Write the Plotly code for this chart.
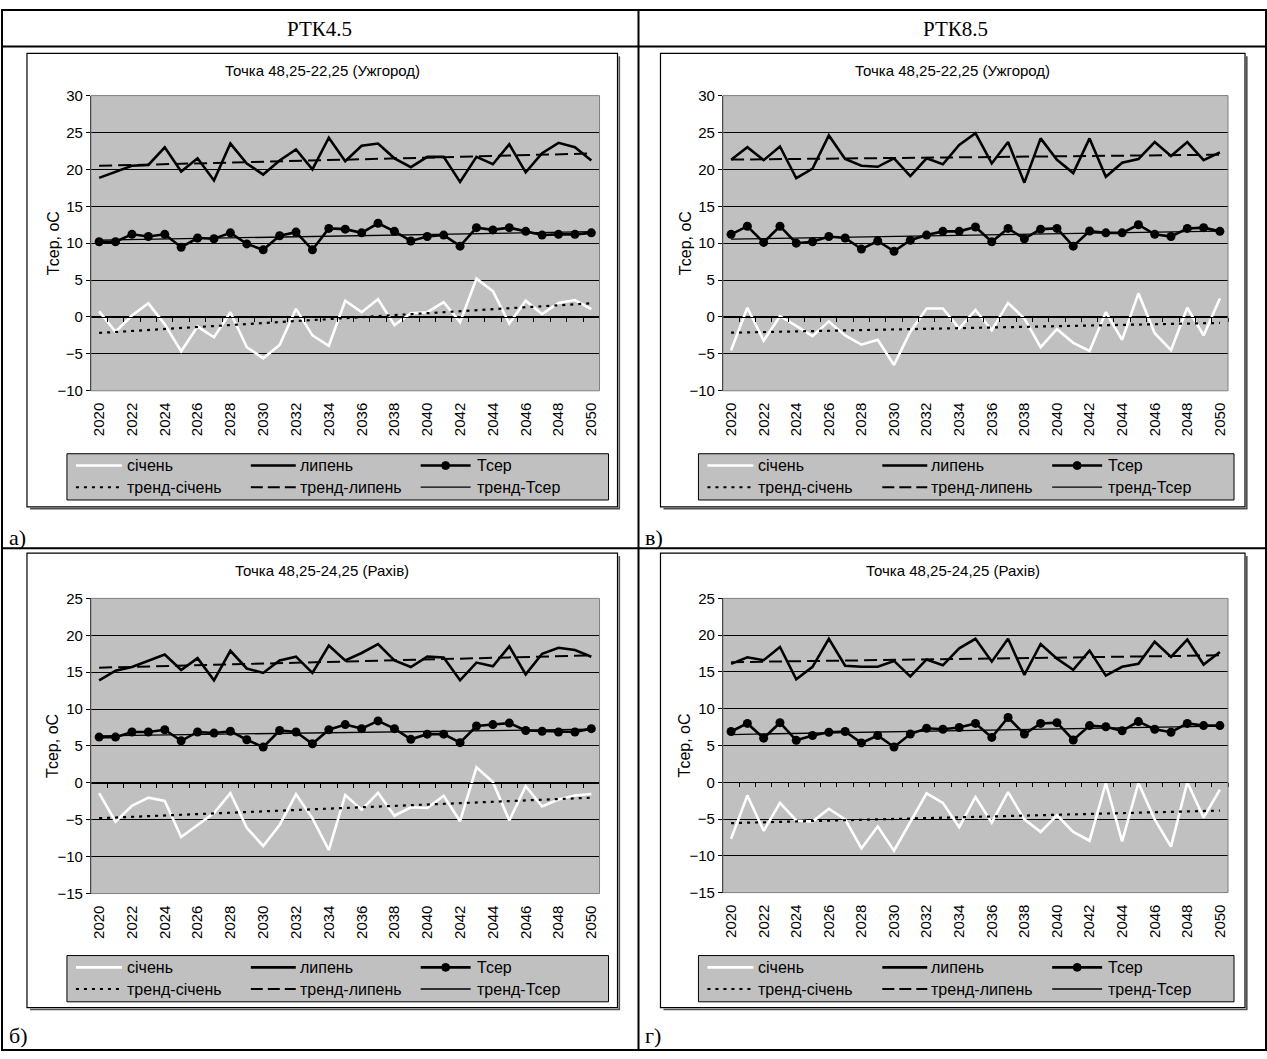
import numpy as np
import plotly.graph_objects as go

# ---------------------------------------------------------------- data
YEARS = list(range(2020, 2051))
YEAR_TICKS = list(range(2020, 2051, 2))

# Ужгород, РТК4.5
jan_uzh_45 = [0.75, -2.0, 0.2, 1.85, -1.0, -4.65, -1.3, -2.75, 0.65, -4.1, -5.6,
              -3.8, 1.1, -2.5, -3.9, 2.2, 0.65, 2.4, -1.1, 0.5, 0.65,
              2.0, -0.7, 5.2, 3.5, -0.9, 2.2, 0.4, 1.9, 2.3, 1.05]
jul_uzh_45 = [18.85, 19.7, 20.5, 20.6, 23.0, 19.7, 21.5, 18.5, 23.5, 20.8, 19.3,
              21.2, 22.7, 20.0, 24.3, 21.1, 23.2, 23.5, 21.5, 20.3, 21.7,
              21.7, 18.3, 21.7, 20.7, 23.4, 19.6, 22.2, 23.6, 23.0, 21.2]
avg_uzh_45 = [10.2, 10.2, 11.2, 10.9, 11.2, 9.45, 10.7, 10.6, 11.4, 9.9, 9.1,
              11.0, 11.5, 9.1, 12.0, 11.9, 11.4, 12.7, 11.6, 10.3, 10.9,
              11.1, 9.6, 12.1, 11.8, 12.1, 11.6, 11.1, 11.2, 11.2, 11.4]

# Ужгород, РТК8.5
jan_uzh_85 = [-4.5, 1.25, -3.2, 0.1, -1.2, -2.6, -0.6, -2.5, -3.75, -3.1, -6.5,
              -2.0, 1.15, 1.15, -1.55, 0.95, -1.8, 1.9, -0.2, -4.1, -1.65,
              -3.5, -4.6, 0.65, -3.1, 3.2, -2.2, -4.5, 1.25, -2.5, 2.5]
jul_uzh_85 = [21.3, 23.0, 21.25, 23.1, 18.8, 20.1, 24.6, 21.4, 20.5, 20.35, 21.5,
              19.1, 21.5, 20.7, 23.3, 24.9, 20.8, 23.7, 18.2, 24.2, 21.3,
              19.5, 24.2, 19.0, 20.9, 21.4, 23.7, 21.8, 23.7, 21.25, 22.3]
avg_uzh_85 = [11.2, 12.3, 10.1, 12.3, 10.0, 10.2, 10.9, 10.7, 9.2, 10.3, 8.9,
              10.4, 11.1, 11.6, 11.6, 12.2, 10.2, 12.0, 10.6, 11.9, 12.0,
              9.6, 11.65, 11.4, 11.4, 12.5, 11.2, 10.9, 12.0, 12.1, 11.6]

# Рахів, РТК4.5
jan_rah_45 = [-1.4, -5.25, -3.1, -2.0, -2.45, -7.35, -5.7, -4.1, -1.4, -6.1, -8.55,
              -5.7, -1.55, -4.8, -9.1, -1.65, -3.65, -1.35, -4.45, -3.3, -3.4,
              -1.75, -5.2, 2.1, 0.1, -5.1, -0.45, -3.2, -2.25, -1.7, -1.5]
jul_rah_45 = [13.9, 15.2, 15.7, 16.5, 17.4, 15.3, 16.9, 13.9, 17.9, 15.5, 14.9,
              16.6, 17.1, 14.9, 18.6, 16.6, 17.6, 18.8, 16.6, 15.7, 17.1,
              17.0, 13.9, 16.3, 15.8, 18.5, 14.7, 17.5, 18.3, 18.0, 17.1]
avg_rah_45 = [6.2, 6.2, 6.9, 6.9, 7.2, 5.7, 6.9, 6.75, 7.0, 5.85, 4.85,
              7.1, 6.9, 5.3, 7.2, 7.9, 7.35, 8.4, 7.35, 5.9, 6.6,
              6.6, 5.45, 7.7, 7.9, 8.1, 7.1, 7.0, 6.9, 6.9, 7.35]

# Рахів, РТК8.5
jan_rah_85 = [-7.7, -1.8, -6.6, -2.8, -5.2, -5.35, -3.6, -5.05, -9.0, -6.0, -9.3,
              -5.35, -1.5, -2.8, -6.1, -2.0, -5.5, -1.35, -5.05, -6.75, -4.5,
              -6.75, -7.95, -0.1, -8.05, -0.1, -5.05, -8.75, 0.0, -4.8, -1.0]
jul_rah_85 = [16.1, 17.0, 16.6, 18.4, 14.0, 15.7, 19.5, 15.85, 15.7, 15.7, 16.5,
              14.4, 16.7, 15.9, 18.2, 19.5, 16.4, 19.5, 14.6, 18.8, 16.8,
              15.3, 17.9, 14.5, 15.7, 16.1, 19.1, 17.05, 19.4, 16.0, 17.7]
avg_rah_85 = [6.9, 8.0, 6.0, 8.1, 5.7, 6.35, 6.8, 6.9, 5.35, 6.35, 4.8,
              6.55, 7.35, 7.2, 7.45, 8.0, 6.1, 8.8, 6.55, 8.0, 8.1,
              5.75, 7.7, 7.55, 7.0, 8.25, 7.2, 6.8, 8.0, 7.7, 7.7]

COL_TITLES = ["РТК4.5", "РТК8.5"]
PANEL_LETTERS = ["а)", "в)", "б)", "г)"]
TITLE_UZH = "Точка 48,25-22,25 (Ужгород)"
TITLE_RAH = "Точка 48,25-24,25 (Рахів)"
Y_TITLE = "Тсер, оС"
LEGEND_NAMES = ["січень", "липень", "Тсер", "тренд-січень", "тренд-липень", "тренд-Тсер"]

# ---------------------------------------------------------------- page geometry
W, H = 1267, 1059
FONT = "Liberation Sans, Arial, sans-serif"
SERIF = "Liberation Serif, Times New Roman, serif"
PLOT_BG = "#C0C0C0"
TICK_SIZE = 15
LEGEND_SIZE = 16


def px(x):
    return x / W


def py(y):
    return 1 - y / H


# each panel: data, title, plot box (left, top, right, bottom in px), y range
panels = [
    dict(jan=jan_uzh_45, jul=jul_uzh_45, avg=avg_uzh_45, title=TITLE_UZH,
         box=(90, 88, 599, 388), yr=(-10, 30), frame=(26, 45, 617, 506),
         legend=(66, 452, 608, 499), letter=(6, 537)),
    dict(jan=jan_uzh_85, jul=jul_uzh_85, avg=avg_uzh_85, title=TITLE_UZH,
         box=(722.5, 88, 1228, 388), yr=(-10, 30), frame=(660, 45, 1245, 506),
         legend=(698, 452, 1234, 499), letter=(643, 537)),
    dict(jan=jan_rah_45, jul=jul_rah_45, avg=avg_rah_45, title=TITLE_RAH,
         box=(90, 599, 599, 899), yr=(-15, 25), frame=(26, 553, 617, 1015),
         legend=(66, 962, 608, 1009), letter=(6, 1043)),
    dict(jan=jan_rah_85, jul=jul_rah_85, avg=avg_rah_85, title=TITLE_RAH,
         box=(722.5, 599, 1228, 898), yr=(-15, 25), frame=(660, 553, 1245, 1015),
         legend=(698, 962, 1234, 1009), letter=(643, 1043)),
]

DOT_DASH = "3px,5px"
LONG_DASH = "13px,6px"

fig = go.Figure()
shapes = []
annotations = []
layout = {}

for i, p in enumerate(panels, start=1):
    xa = "x" if i == 1 else f"x{i}"
    ya = "y" if i == 1 else f"y{i}"
    za = f"x{i + 4}"  # axis line drawn through zero
    l, t, r, b = p["box"]
    y0, y1 = p["yr"]

    # trends (least squares, as in the spreadsheet trendlines)
    yrs = np.array(YEARS, dtype=float)
    ends = [YEARS[0], YEARS[-1]]
    trend = {}
    for key in ("jan", "jul", "avg"):
        k, c = np.polyfit(yrs, np.array(p[key]), 1)
        trend[key] = [k * e + c for e in ends]

    fig.add_trace(go.Scatter(x=YEARS, y=p["jan"], mode="lines", xaxis=xa, yaxis=ya,
                             line=dict(color="white", width=2.6), showlegend=False))
    fig.add_trace(go.Scatter(x=YEARS, y=p["jul"], mode="lines", xaxis=xa, yaxis=ya,
                             line=dict(color="black", width=2.6), showlegend=False))
    fig.add_trace(go.Scatter(x=YEARS, y=p["avg"], mode="lines+markers", xaxis=xa, yaxis=ya,
                             line=dict(color="black", width=2.6),
                             marker=dict(color="black", size=9), showlegend=False))
    fig.add_trace(go.Scatter(x=ends, y=trend["jan"], mode="lines", xaxis=xa, yaxis=ya,
                             line=dict(color="black", width=2.2, dash=DOT_DASH), showlegend=False))
    fig.add_trace(go.Scatter(x=ends, y=trend["jul"], mode="lines", xaxis=xa, yaxis=ya,
                             line=dict(color="black", width=2, dash=LONG_DASH), showlegend=False))
    fig.add_trace(go.Scatter(x=ends, y=trend["avg"], mode="lines", xaxis=xa, yaxis=ya,
                             line=dict(color="black", width=1.3), showlegend=False))
    # empty trace so the zero-crossing axis gets its own subplot
    fig.add_trace(go.Scatter(x=[None], y=[None], xaxis=za, yaxis=ya, showlegend=False,
                             hoverinfo="skip"))

    xdom = [px(l), px(r)]
    ydom = [py(b), py(t)]
    xrange = [YEARS[0] - 0.5, YEARS[-1] + 0.5]
    layout["xaxis" if i == 1 else f"xaxis{i}"] = dict(
        domain=xdom, anchor=ya, range=xrange, tickmode="array",
        tickvals=YEAR_TICKS, ticktext=[str(v) for v in YEAR_TICKS], tickangle=-90,
        ticks="outside", ticklen=5, tickcolor="rgba(0,0,0,0)",
        showgrid=False, zeroline=False, showline=False,
        tickfont=dict(family=FONT, size=TICK_SIZE, color="black"),
    )
    zero_pos = ydom[0] + (0 - y0) / (y1 - y0) * (ydom[1] - ydom[0])
    layout[f"xaxis{i + 4}"] = dict(
        overlaying=xa, anchor="free", position=zero_pos, range=xrange,
        tickmode="array", tickvals=[v - 0.5 for v in YEARS] + [YEARS[-1] + 0.5],
        ticks="outside", ticklen=4, tickcolor="black", tickwidth=1,
        showticklabels=False, showgrid=False, zeroline=False,
        showline=True, linecolor="black", linewidth=1, side="bottom",
    )
    layout["yaxis" if i == 1 else f"yaxis{i}"] = dict(
        domain=ydom, anchor=xa, range=[y0, y1], dtick=5, tick0=0,
        showgrid=True, gridcolor="black", gridwidth=1, zeroline=False,
        showline=True, linecolor="black", linewidth=1,
        ticks="outside", ticklen=4, tickcolor="black",
        tickfont=dict(family=FONT, size=TICK_SIZE, color="black"),
    )

    # plot area border
    shapes.append(dict(type="rect", xref="paper", yref="paper",
                       x0=px(l), x1=px(r), y0=py(b), y1=py(t),
                       line=dict(color="#808080", width=1), layer="above"))

    # chart frame with a thin drop shadow on the right and bottom
    fl, ft, fr, fb = p["frame"]
    shapes.append(dict(type="rect", xref="paper", yref="paper",
                       x0=px(fl), x1=px(fr), y0=py(fb), y1=py(ft),
                       line=dict(color="black", width=1.2), layer="below"))
    shapes.append(dict(type="path", xref="paper", yref="paper",
                       path=(f"M {px(fl + 3)},{py(fb + 1.8)} L {px(fr + 1.8)},{py(fb + 1.8)} "
                             f"L {px(fr + 1.8)},{py(ft + 3)}"),
                       line=dict(color="#505050", width=1.6), layer="below"))

    # chart title and y-axis title
    annotations.append(dict(text=p["title"], x=px((fl + fr) / 2), y=py(ft + 18),
                            xref="paper", yref="paper", showarrow=False,
                            xanchor="center", yanchor="middle",
                            font=dict(family=FONT, size=15, color="black")))
    annotations.append(dict(text=Y_TITLE, x=px(l - 38), y=py((t + b) / 2),
                            xref="paper", yref="paper", showarrow=False, textangle=-90,
                            xanchor="center", yanchor="middle",
                            font=dict(family=FONT, size=16, color="black")))

    # legend box
    L, T, R, B = p["legend"]
    shapes.append(dict(type="rect", xref="paper", yref="paper",
                       x0=px(L), x1=px(R), y0=py(B), y1=py(T),
                       fillcolor=PLOT_BG, line=dict(color="black", width=1), layer="above"))
    rows = [T + 12, T + 34]
    cols = [(L + 9, L + 55, L + 58), (L + 184, L + 229, L + 231), (L + 354, L + 404, L + 408)]
    styles = [
        dict(color="white", width=2.6),
        dict(color="black", width=2.6),
        dict(color="black", width=2.6),
        dict(color="black", width=2, dash=DOT_DASH),
        dict(color="black", width=2, dash="12px,5px"),
        dict(color="black", width=1.3),
    ]
    for j, name in enumerate(LEGEND_NAMES):
        ry = rows[j // 3]
        c0, c1, ct = cols[j % 3]
        shapes.append(dict(type="line", xref="paper", yref="paper",
                           x0=px(c0), x1=px(c1), y0=py(ry), y1=py(ry),
                           line=styles[j], layer="above"))
        if j == 2:
            cx = (c0 + c1) / 2
            shapes.append(dict(type="circle", xref="paper", yref="paper",
                               x0=px(cx - 4), x1=px(cx + 4),
                               y0=py(ry + 4), y1=py(ry - 4),
                               fillcolor="black", line=dict(color="black", width=1),
                               layer="above"))
        annotations.append(dict(text=name, x=px(ct), y=py(ry), xref="paper", yref="paper",
                                showarrow=False, xanchor="left", yanchor="middle",
                                font=dict(family=FONT, size=LEGEND_SIZE, color="black")))

    # panel letter
    lx, ly = p["letter"]
    annotations.append(dict(text=PANEL_LETTERS[i - 1], x=px(lx), y=py(ly),
                            xref="paper", yref="paper", showarrow=False,
                            xanchor="left", yanchor="middle",
                            font=dict(family=SERIF, size=22, color="black")))

# table grid
TL = dict(color="black", width=2)
shapes += [
    dict(type="rect", xref="paper", yref="paper", x0=px(1), x1=px(1266), y0=py(1058), y1=py(1),
         line=TL, layer="below"),
    dict(type="line", xref="paper", yref="paper", x0=px(1), x1=px(1266), y0=py(38), y1=py(38),
         line=TL, layer="below"),
    dict(type="line", xref="paper", yref="paper", x0=px(638), x1=px(638), y0=py(1), y1=py(1058),
         line=TL, layer="below"),
    dict(type="line", xref="paper", yref="paper", x0=px(1), x1=px(1266), y0=py(548), y1=py(548),
         line=TL, layer="below"),
]
for k, txt in enumerate(COL_TITLES):
    annotations.append(dict(text=txt, x=px(319 + k * 636), y=py(20), xref="paper", yref="paper",
                            showarrow=False, xanchor="center", yanchor="middle",
                            font=dict(family=SERIF, size=21, color="black")))

fig.update_layout(
    width=W, height=H, margin=dict(l=0, r=0, t=0, b=0),
    paper_bgcolor="white", plot_bgcolor=PLOT_BG,
    shapes=shapes, annotations=annotations, showlegend=False,
    **layout,
)

fig.write_html("out.html")
